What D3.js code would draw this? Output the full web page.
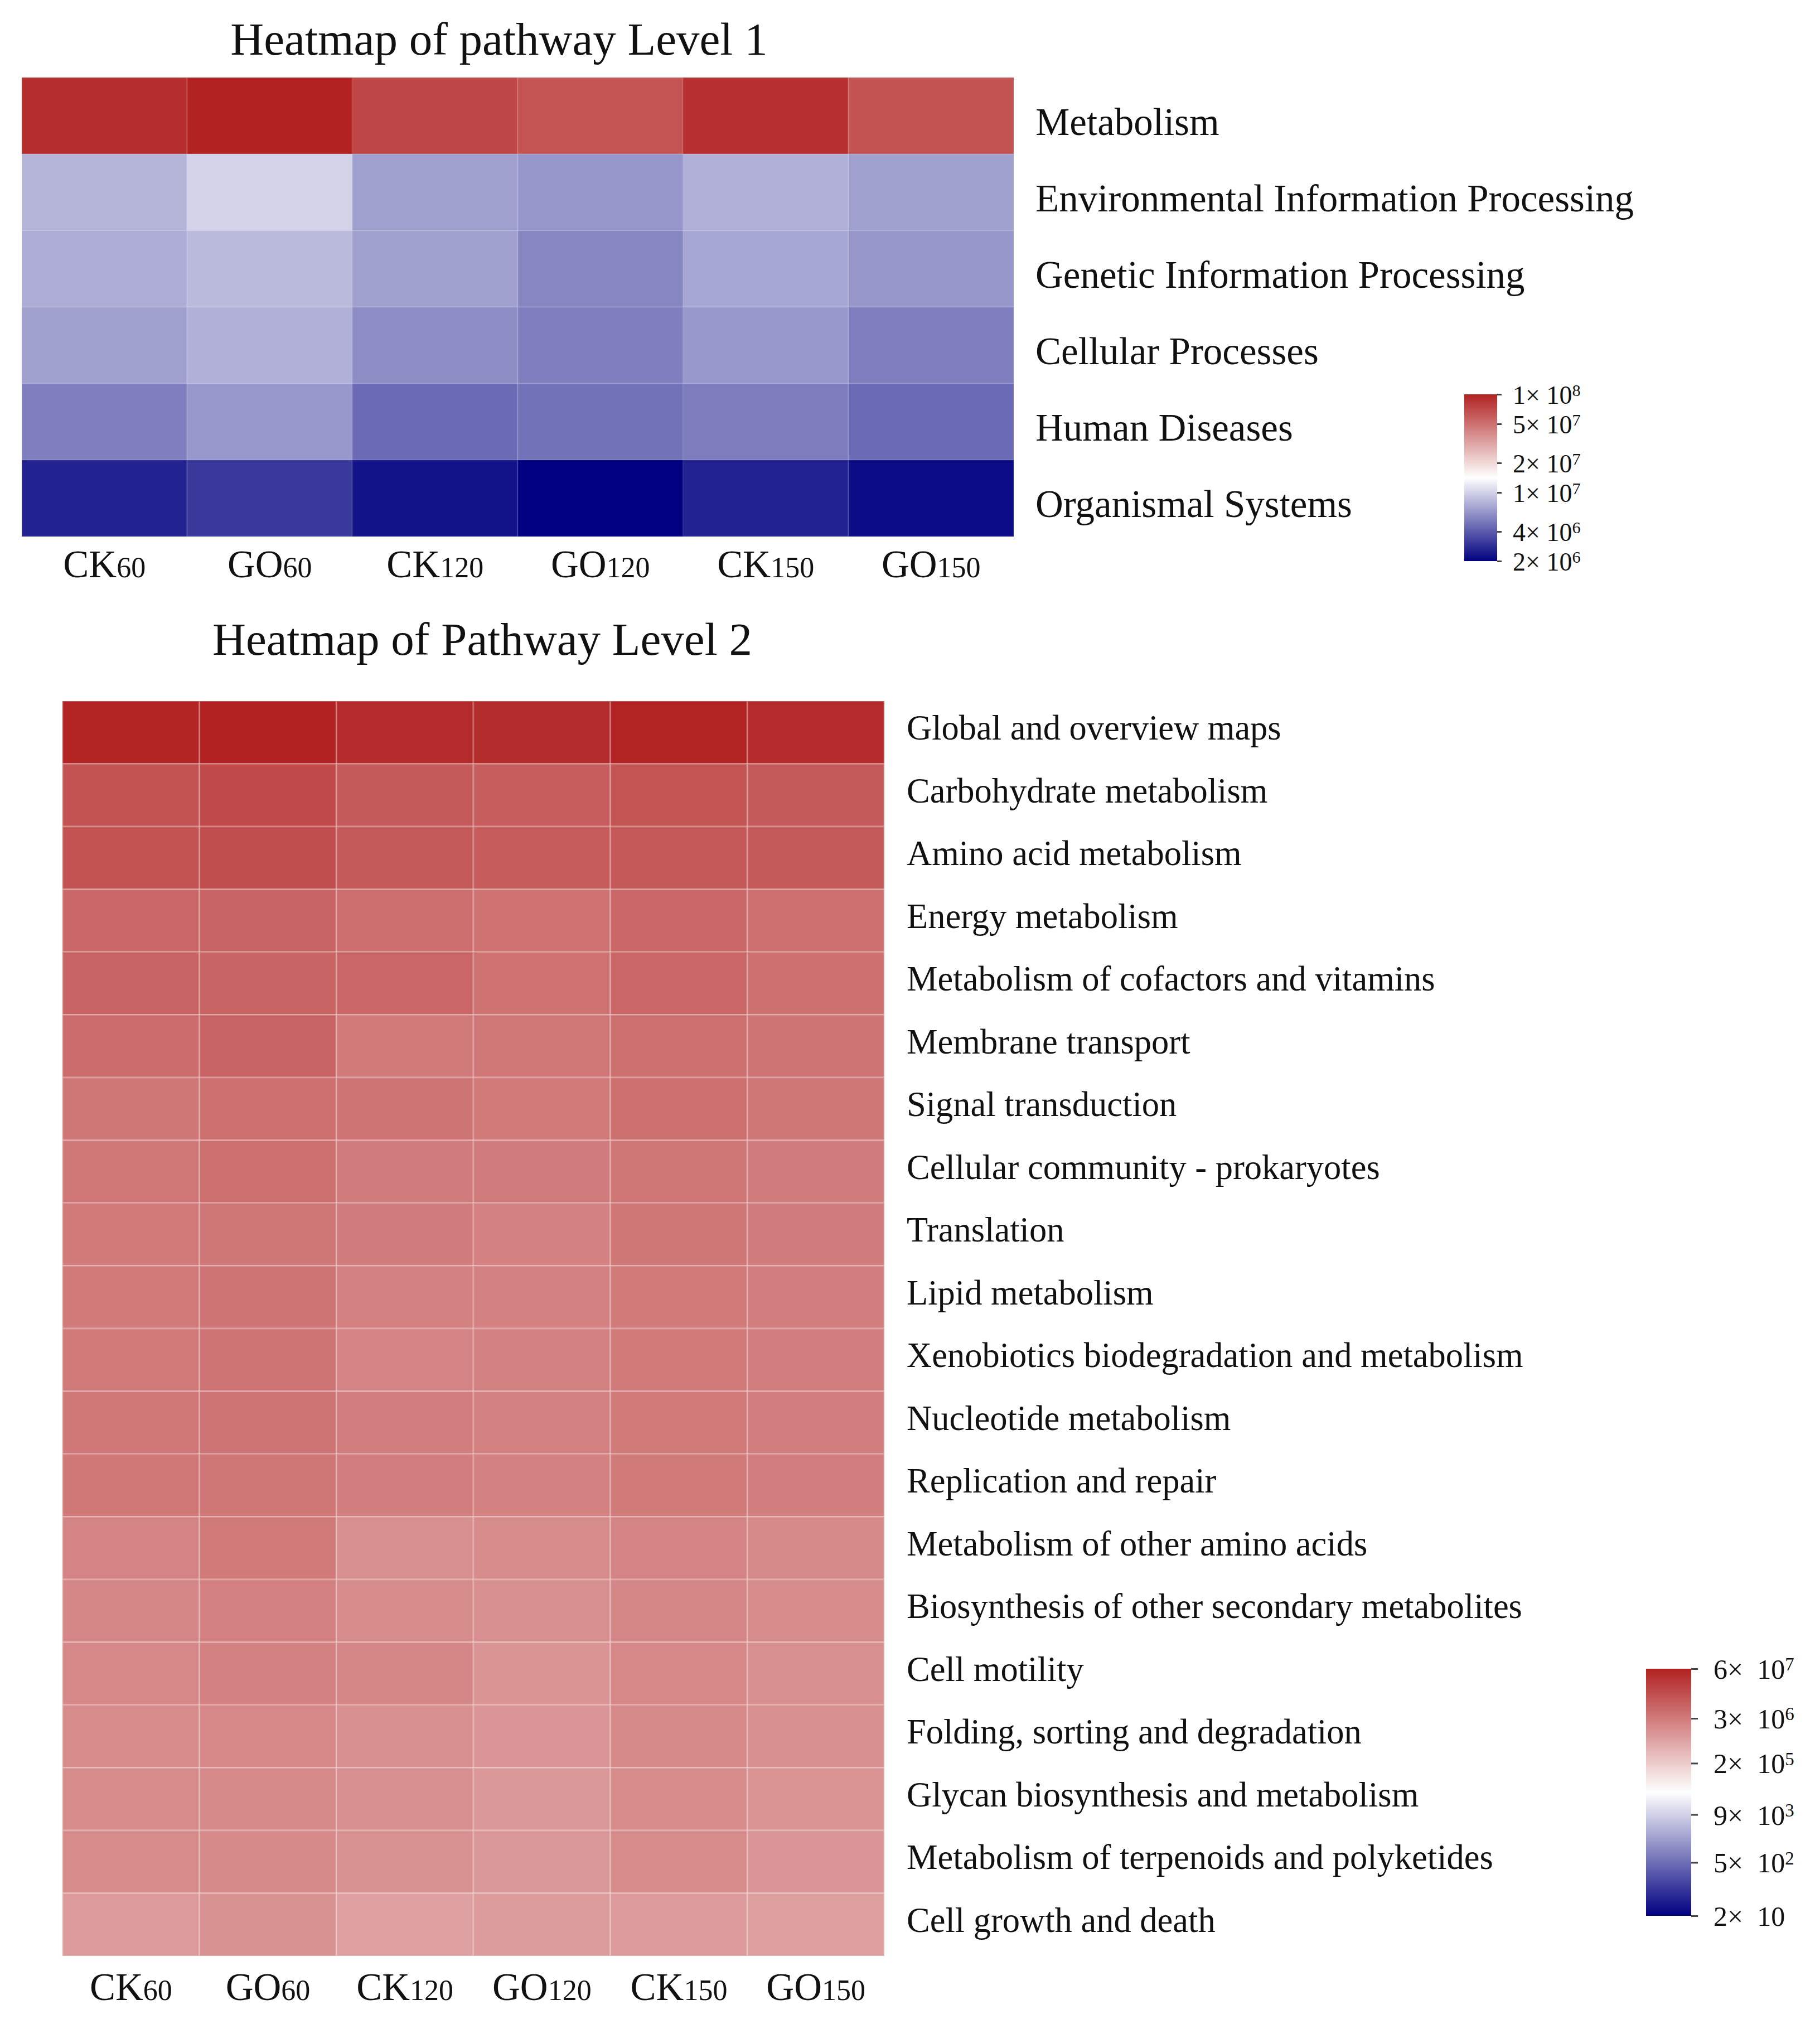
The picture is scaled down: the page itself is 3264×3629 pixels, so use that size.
<!DOCTYPE html>
<html>
<head>
<meta charset="utf-8">
<script src="https://cdn.jsdelivr.net/npm/d3@7"></script>
<style>
  body { margin: 0; background: #fff; }
  svg text { font-family: "Liberation Serif", "Times New Roman", serif; fill: #111; }
</style>
</head>
<body>
<svg id="chart" width="3264" height="3629"></svg>
<script>
// samples (columns), shared by both heatmaps
const samples = ["CK60", "GO60", "CK120", "GO120", "CK150", "GO150"];

// Level 1 pathways and abundance (rows x samples)
const level1Pathways = [
  "Metabolism",
  "Environmental Information Processing",
  "Genetic Information Processing",
  "Cellular Processes",
  "Human Diseases",
  "Organismal Systems"
];
const level1Values = [
  [9.1e7, 1.0e8, 7.3e7, 6.4e7, 8.9e7, 6.5e7],
  [8.0e6, 1.0e7, 6.8e6, 6.3e6, 7.7e6, 6.8e6],
  [7.5e6, 8.3e6, 6.8e6, 5.6e6, 7.2e6, 6.3e6],
  [6.8e6, 7.7e6, 5.9e6, 5.3e6, 6.4e6, 5.3e6],
  [5.3e6, 6.4e6, 4.5e6, 4.8e6, 5.2e6, 4.5e6],
  [2.6e6, 3.1e6, 2.3e6, 2.0e6, 2.6e6, 2.2e6]
];
const level1Ticks = [1e8, 5e7, 2e7, 1e7, 4e6, 2e6];

// Level 2 pathways and abundance (rows x samples)
const level2Pathways = [
  "Global and overview maps",
  "Carbohydrate metabolism",
  "Amino acid metabolism",
  "Energy metabolism",
  "Metabolism of cofactors and vitamins",
  "Membrane transport",
  "Signal transduction",
  "Cellular community - prokaryotes",
  "Translation",
  "Lipid metabolism",
  "Xenobiotics biodegradation and metabolism",
  "Nucleotide metabolism",
  "Replication and repair",
  "Metabolism of other amino acids",
  "Biosynthesis of other secondary metabolites",
  "Cell motility",
  "Folding, sorting and degradation",
  "Glycan biosynthesis and metabolism",
  "Metabolism of terpenoids and polyketides",
  "Cell growth and death"
];
const level2Values = [
  [5.6e7, 6.0e7, 4.6e7, 4.3e7, 5.8e7, 4.4e7],
  [1.19e7, 1.56e7, 9.1e6, 7.9e6, 1.11e7, 9.1e6],
  [1.19e7, 1.36e7, 9.1e6, 8.5e6, 9.7e6, 9.1e6],
  [5.6e6, 6.5e6, 4.6e6, 4.0e6, 5.6e6, 4.3e6],
  [6.5e6, 6.5e6, 6.0e6, 4.0e6, 6.0e6, 4.3e6],
  [4.9e6, 6.5e6, 3.1e6, 3.3e6, 4.3e6, 3.8e6],
  [3.5e6, 4.3e6, 3.8e6, 3.1e6, 4.3e6, 3.5e6],
  [3.3e6, 4.3e6, 2.9e6, 2.9e6, 3.5e6, 2.9e6],
  [3.1e6, 3.5e6, 2.9e6, 2.4e6, 3.5e6, 2.9e6],
  [3.1e6, 3.8e6, 2.4e6, 2.4e6, 3.1e6, 2.7e6],
  [3.1e6, 3.8e6, 2.2e6, 2.4e6, 3.1e6, 2.7e6],
  [3.3e6, 3.8e6, 2.7e6, 2.4e6, 3.1e6, 2.7e6],
  [3.3e6, 3.5e6, 2.7e6, 2.4e6, 3.1e6, 2.7e6],
  [2.2e6, 3.1e6, 1.5e6, 1.7e6, 2.2e6, 1.8e6],
  [2.06e6, 2.5e6, 1.7e6, 1.5e6, 2.06e6, 1.7e6],
  [1.9e6, 2.4e6, 2.06e6, 1.29e6, 1.9e6, 1.5e6],
  [1.7e6, 1.9e6, 1.5e6, 1.2e6, 1.8e6, 1.5e6],
  [1.7e6, 1.8e6, 1.5e6, 1.12e6, 1.7e6, 1.29e6],
  [1.7e6, 1.8e6, 1.37e6, 1.12e6, 1.7e6, 1.2e6],
  [1.05e6, 1.37e6, 8.6e5, 9.8e5, 1.05e6, 9.2e5]
];
const level2Ticks = [6e7, 3e6, 2e5, 9e3, 5e2, 20];

const svg = d3.select("#chart");
const defs = svg.append("defs");

// navy - white - firebrick on a log scale, white at the geometric middle
function logDiverging(lo, hi) {
  return d3.scaleLog()
    .domain([lo, Math.sqrt(lo * hi), hi])
    .range(["#000080", "#ffffff", "#b22222"])
    .clamp(true);
}

const color1 = logDiverging(2e6, 1e8);
const color2 = logDiverging(20, 6e7);

function drawHeatmap(o) {
  const x = d3.scaleBand().domain(samples).range([o.left, o.right]);
  const y = d3.scaleBand().domain(o.rows).range([o.top, o.bottom]);
  const g = svg.append("g");

  const cells = o.rows.flatMap((r, i) =>
    samples.map((s, j) => ({ row: r, col: s, v: o.values[i][j] })));

  g.selectAll("rect.cell")
    .data(cells)
    .enter()
    .append("rect")
    .attr("class", "cell")
    .attr("x", d => x(d.col))
    .attr("y", d => y(d.row))
    .attr("width", x.bandwidth())
    .attr("height", y.bandwidth())
    .attr("fill", d => o.color(d.v))
    .attr("stroke", "#ffffff")
    .attr("stroke-opacity", o.gridOpacity)
    .attr("stroke-width", 3);

  // row labels
  g.selectAll("text.row")
    .data(o.rows)
    .enter()
    .append("text")
    .attr("class", "row")
    .attr("x", o.labelX)
    .attr("y", d => y(d) + y.bandwidth() / 2 + o.labelDy)
    .attr("font-size", o.labelSize)
    .text(d => d);

  // column labels: letters + smaller digits
  const colText = g.selectAll("text.col")
    .data(samples)
    .enter()
    .append("text")
    .attr("class", "col")
    .attr("x", d => x(d) + x.bandwidth() / 2)
    .attr("y", o.colLabelY)
    .attr("text-anchor", "middle");
  colText.append("tspan").attr("font-size", 69).text(d => d.match(/^[A-Z]+/)[0]);
  colText.append("tspan").attr("font-size", 52).text(d => d.match(/\d+$/)[0]);

  // title
  svg.append("text")
    .attr("x", o.titleX)
    .attr("y", o.titleY)
    .attr("text-anchor", "middle")
    .attr("font-size", 83)
    .text(o.title);
}

function drawLegend(o) {
  const pos = d3.scaleLog().domain(o.domain).range([o.bottom, o.top]);
  const id = "grad-" + o.name;
  const grad = defs.append("linearGradient")
    .attr("id", id)
    .attr("x1", 0).attr("y1", 1).attr("x2", 0).attr("y2", 0);
  grad.selectAll("stop")
    .data(d3.range(0, 1.0001, 0.025))
    .enter()
    .append("stop")
    .attr("offset", t => t)
    .attr("stop-color", t => o.color(pos.invert(o.bottom - t * (o.bottom - o.top))));

  svg.append("rect")
    .attr("x", o.x)
    .attr("y", o.top)
    .attr("width", o.width)
    .attr("height", o.bottom - o.top)
    .attr("fill", `url(#${id})`);

  const axisG = svg.append("g")
    .attr("transform", `translate(${o.x + o.width},0)`)
    .call(d3.axisRight(pos).tickValues(o.ticks).tickSize(o.tickSize).tickPadding(o.tickPadding));
  axisG.select(".domain").remove();
  axisG.attr("font-family", null).attr("font-size", o.fontSize);
  axisG.selectAll(".tick line").attr("stroke", "#444").attr("stroke-width", 3);
  axisG.selectAll(".tick text")
    .attr("fill", "#111")
    .attr("dy", "0.35em")
    .text(null)
    .each(function (d) {
      const e = Math.floor(Math.log10(d) + 1e-9);
      const m = Math.round(d / Math.pow(10, e));
      const t = d3.select(this);
      t.append("tspan").text(m + "\u00d7" + o.gap + "10");
      if (e > 1) {
        t.append("tspan").attr("dy", "-0.45em").attr("font-size", "0.66em").text(e);
      }
    });
}

drawHeatmap({
  rows: level1Pathways, values: level1Values, color: color1,
  left: 39, right: 1818, top: 139, bottom: 962,
  gridOpacity: 0.06, labelX: 1857, labelDy: 34, labelSize: 69,
  colLabelY: 1035, title: "Heatmap of pathway Level 1", titleX: 895, titleY: 98
});

drawHeatmap({
  rows: level2Pathways, values: level2Values, color: color2,
  left: 112, right: 1586, top: 1257, bottom: 3507,
  gridOpacity: 0.22, labelX: 1626, labelDy: 13, labelSize: 62.5,
  colLabelY: 3586, title: "Heatmap of Pathway Level 2", titleX: 865, titleY: 1174
});

drawLegend({
  name: "l1", domain: [2e6, 1e8], color: color1, ticks: level1Ticks,
  x: 2626, width: 59, top: 707, bottom: 1006,
  tickSize: 8, tickPadding: 20, fontSize: 46, gap: " "
});

drawLegend({
  name: "l2", domain: [20, 6e7], color: color2, ticks: level2Ticks,
  x: 2952, width: 81, top: 2992, bottom: 3435,
  tickSize: 12, tickPadding: 28, fontSize: 50, gap: "\u2002"
});
</script>
</body>
</html>
